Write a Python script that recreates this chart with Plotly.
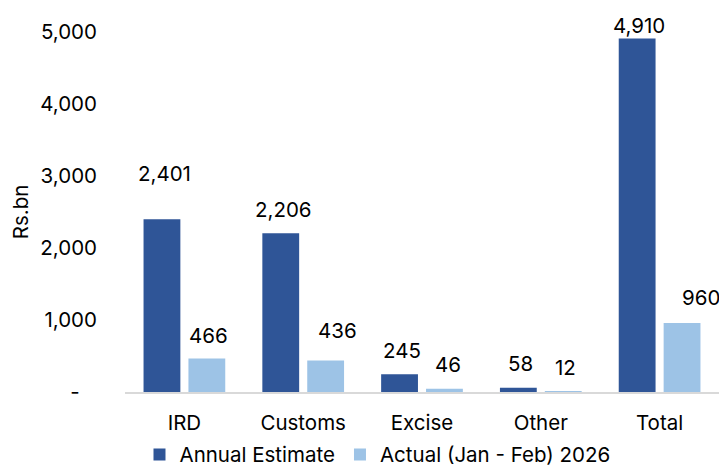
import plotly.graph_objects as go

# revenue categories and values (Rs.bn)
categories = ["IRD", "Customs", "Excise", "Other", "Total"]
annual_estimate = [2401, 2206, 245, 58, 4910]
actual_jan_feb = [466, 436, 46, 12, 960]

y_ticks = [0, 1000, 2000, 3000, 4000, 5000]
y_tick_text = ["-\u00a0\u00a0\u00a0", "1,000", "2,000", "3,000", "4,000", "5,000"]

# label nudges in pixels (data labels were hand placed in the original)
dark_dx = [2.5, 2.5, 2.5, 2.5, 2]
dark_dy = [46, 24, 24, 24, 12.5]
light_dx = [1.5, 12, 3.5, 2.5, 19]
light_dy = [23, 30, 24, 24, 25]

DARK = "#2F5597"
LIGHT = "#9DC3E6"
FONT = "Inter"
FS = 20.5

fig = go.Figure()
fig.add_trace(go.Bar(x=categories, y=annual_estimate, name="Annual Estimate",
                     marker=dict(color=DARK, line=dict(width=0))))
fig.add_trace(go.Bar(x=categories, y=actual_jan_feb, name="Actual (Jan - Feb) 2026",
                     marker=dict(color=LIGHT, line=dict(width=0))))

# data labels
for i, cat in enumerate(categories):
    fig.add_annotation(x=cat, y=annual_estimate[i], text=f"{annual_estimate[i]:,}",
                       showarrow=False, xshift=-22.5 + dark_dx[i], yshift=dark_dy[i],
                       yanchor="middle", font=dict(size=FS, color="#000000", family=FONT))
    fig.add_annotation(x=cat, y=actual_jan_feb[i], text=f"{actual_jan_feb[i]:,}",
                       showarrow=False, xshift=22.5 + light_dx[i], yshift=light_dy[i],
                       yanchor="middle", font=dict(size=FS, color="#000000", family=FONT))

# the page body adds an 8px margin, so the figure is drawn 8px smaller
fig.update_layout(
    width=719, height=459,
    margin=dict(l=116.5, r=8, t=23.5, b=75, autoexpand=False),
    plot_bgcolor="white", paper_bgcolor="white",
    font=dict(family=FONT, size=FS, color="#000000"),
    barmode="group", bargap=0.244, bargroupgap=0.18,
    showlegend=True,
    legend=dict(orientation="h", x=0.0244, xanchor="left", xref="paper",
                y=0.027, yanchor="middle", yref="container",
                font=dict(size=FS), itemwidth=30, traceorder="normal"),
)
fig.update_xaxes(showline=True, linecolor="#D9D9D9", linewidth=2, showgrid=False,
                 ticks="", ticklabelstandoff=11, range=[-0.5, 4.5], automargin=False)
fig.update_yaxes(range=[0, 5000], tickvals=y_ticks, ticktext=y_tick_text, showgrid=False,
                 zeroline=False, showline=False, ticklabelstandoff=27, automargin=False,
                 title=dict(text="Rs.bn", standoff=8, font=dict(size=FS)))

fig.write_html("out.html")
